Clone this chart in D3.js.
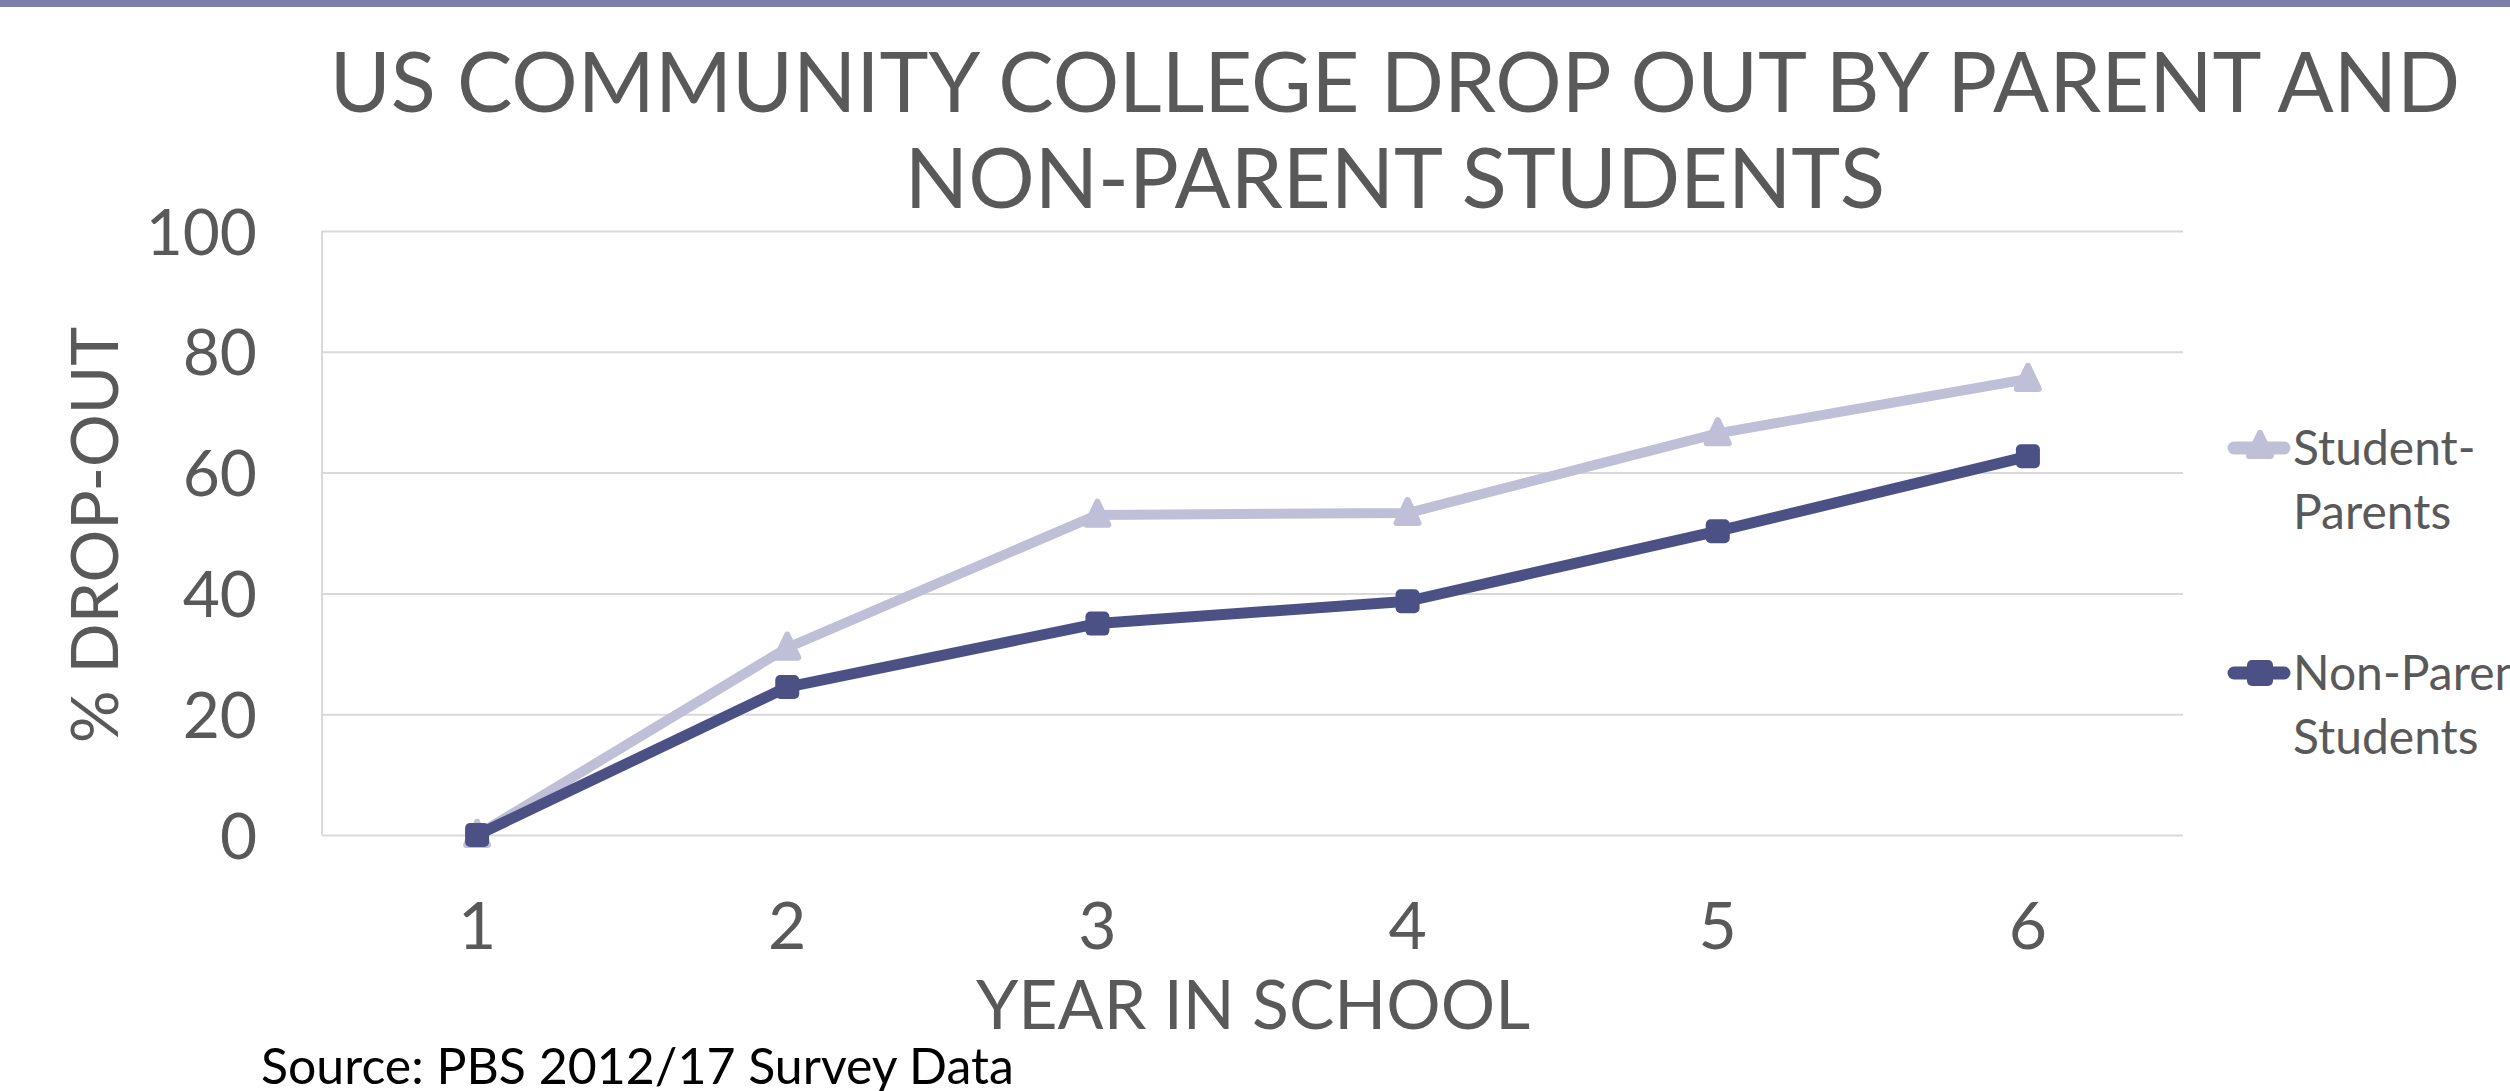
<!DOCTYPE html>
<html>
<head>
<meta charset="utf-8">
<script src="https://cdnjs.cloudflare.com/ajax/libs/d3/7.8.5/d3.min.js"></script>
<style>
  body { margin: 0; background: #fff; overflow: hidden; }
</style>
</head>
<body>
<div id="chart"></div>
<script>

// data

var years = ["1", "2", "3", "4", "5", "6"];
var studentParents = [0, 31, 53, 53.3, 66.5, 75.5];
var nonParents = [0, 24.5, 35, 38.7, 50.3, 62.7];
var yTicks = [0, 20, 40, 60, 80, 100];
var titleLines = ["US COMMUNITY COLLEGE DROP OUT BY PARENT AND", "NON-PARENT STUDENTS"];
var legendLabels = [["Student-", "Parents"], ["Non-Parent", "Students"]];

var W = 2510, H = 1091;
var font = "Lato, 'Open Sans', sans-serif";
var textColor = "#595959";
var lightColor = "#c0bfd8";
var darkColor = "#4c5185";

var svg = d3.select("#chart")
    .append("svg")
    .attr("width", W)
    .attr("height", H);

// top band
svg.append("rect")
    .attr("x", 0).attr("y", 0)
    .attr("width", W).attr("height", 7)
    .attr("fill", "#7b7fa9");

// title
svg.selectAll(".title")
    .data(titleLines)
    .enter()
    .append("text")
    .attr("class", "title")
    .attr("x", 1395)
    .attr("y", function(d, i) { return 112 + i * 96; })
    .attr("text-anchor", "middle")
    .attr("font-family", font)
    .attr("font-size", 83)
    .attr("fill", textColor)
    .text(function(d) { return d; });

// scales

var plotLeft = 322, plotRight = 2183, plotTop = 231, plotBottom = 835;

var x = d3.scaleBand()
    .domain(years)
    .range([plotLeft, plotRight]);

var y = d3.scaleLinear()
    .domain([0, 100])
    .range([plotBottom, plotTop]);

var cx = function(d, i) { return x(years[i]) + x.bandwidth() / 2; };

// gridlines

var grid = svg.append("g")
    .attr("transform", "translate(" + plotLeft + ",0)")
    .call(d3.axisLeft(y).tickValues(yTicks).tickSize(-(plotRight - plotLeft)).tickFormat(""));
grid.select(".domain").remove();
grid.selectAll("line").attr("stroke", "#d9d9d9").attr("stroke-width", 2);

svg.append("line")
    .attr("x1", plotLeft).attr("x2", plotLeft)
    .attr("y1", y(100)).attr("y2", y(0))
    .attr("stroke", "#d9d9d9")
    .attr("stroke-width", 2);

// y tick labels

var yAxis = svg.append("g")
    .attr("transform", "translate(257,0)")
    .call(d3.axisLeft(y).tickValues(yTicks).tickSize(0).tickPadding(0));
yAxis.select(".domain").remove();
yAxis.selectAll("text")
    .attr("font-family", font)
    .attr("font-size", 64)
    .attr("fill", textColor)
    .attr("dy", "0.36em");

// x tick labels

var xAxis = svg.append("g")
    .attr("transform", "translate(0,949)")
    .call(d3.axisBottom(x).tickSize(0).tickPadding(0));
xAxis.select(".domain").remove();
xAxis.selectAll("text")
    .attr("font-family", font)
    .attr("font-size", 66)
    .attr("fill", textColor)
    .attr("dy", 0);

// axis titles

svg.append("text")
    .attr("transform", "translate(118,535) rotate(-90)")
    .attr("text-anchor", "middle")
    .attr("font-family", font)
    .attr("font-size", 66)
    .attr("fill", textColor)
    .text("% DROP-OUT");

svg.append("text")
    .attr("x", 1253)
    .attr("y", 1029)
    .attr("text-anchor", "middle")
    .attr("font-family", font)
    .attr("font-size", 68)
    .attr("fill", textColor)
    .text("YEAR IN SCHOOL");

svg.append("text")
    .attr("x", 261)
    .attr("y", 1084)
    .attr("font-family", font)
    .attr("font-size", 50)
    .attr("fill", "#000")
    .text("Source: PBS 2012/17 Survey Data");

// lines and markers

var line = d3.line()
    .x(cx)
    .y(function(d) { return y(d); });

var triangle = function(px, py, s) {
    return "M" + px + "," + (py - s * 0.6) +
        "L" + (px + s * 0.5) + "," + (py + s * 0.45) +
        "L" + (px - s * 0.5) + "," + (py + s * 0.45) + "Z";
};

svg.append("path")
    .datum(studentParents)
    .attr("d", line)
    .attr("fill", "none")
    .attr("stroke", lightColor)
    .attr("stroke-width", 10)
    .attr("stroke-linejoin", "round");

svg.selectAll(".tri")
    .data(studentParents)
    .enter()
    .append("path")
    .attr("class", "tri")
    .attr("d", function(d, i) { return triangle(cx(d, i), y(d), 22); })
    .attr("fill", lightColor)
    .attr("stroke", lightColor)
    .attr("stroke-width", 6)
    .attr("stroke-linejoin", "round");

svg.append("path")
    .datum(nonParents)
    .attr("d", line)
    .attr("fill", "none")
    .attr("stroke", darkColor)
    .attr("stroke-width", 11)
    .attr("stroke-linejoin", "round");

svg.selectAll(".sq")
    .data(nonParents)
    .enter()
    .append("rect")
    .attr("class", "sq")
    .attr("x", function(d, i) { return cx(d, i) - 12; })
    .attr("y", function(d) { return y(d) - 12; })
    .attr("width", 24)
    .attr("height", 24)
    .attr("rx", 5)
    .attr("fill", darkColor);

// legend

var legendY = [448, 673];
var legendColors = [lightColor, darkColor];

var leg = svg.selectAll(".legend")
    .data(legendLabels)
    .enter()
    .append("g")
    .attr("class", "legend")
    .attr("transform", function(d, i) { return "translate(0," + legendY[i] + ")"; });

leg.append("line")
    .attr("x1", 2234).attr("x2", 2284)
    .attr("y1", 0).attr("y2", 0)
    .attr("stroke", function(d, i) { return legendColors[i]; })
    .attr("stroke-width", 13)
    .attr("stroke-linecap", "round");

leg.each(function(d, i) {
    var g = d3.select(this);
    if (i == 0) {
        g.append("path")
            .attr("d", triangle(2260, -2, 22))
            .attr("fill", lightColor)
            .attr("stroke", lightColor)
            .attr("stroke-width", 6)
            .attr("stroke-linejoin", "round");
    } else {
        g.append("rect")
            .attr("x", 2247).attr("y", -13)
            .attr("width", 26).attr("height", 26)
            .attr("rx", 5)
            .attr("fill", darkColor);
    }
});

leg.selectAll("text")
    .data(function(d) { return d; })
    .enter()
    .append("text")
    .attr("x", 2293)
    .attr("y", function(d, j) { return 17 + j * 64; })
    .attr("font-family", font)
    .attr("font-size", 48)
    .attr("fill", textColor)
    .text(function(d) { return d; });

</script>
</body>
</html>
